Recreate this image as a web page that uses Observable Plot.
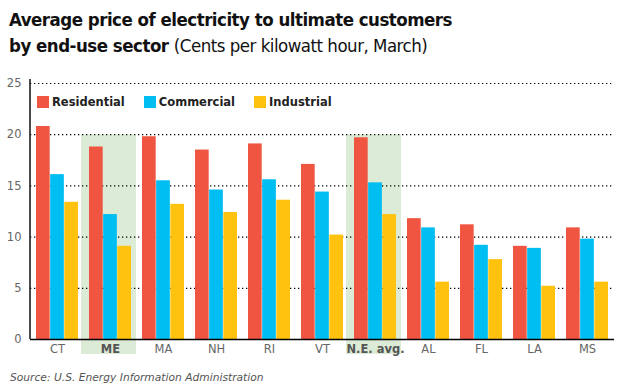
<!DOCTYPE html>
<html><head><meta charset="utf-8">
<script src="https://cdn.jsdelivr.net/npm/d3@7"></script>
<script src="https://cdn.jsdelivr.net/npm/@observablehq/plot@0.6"></script>
<style>
body{margin:0;background:#fff;font-family:"DejaVu Sans",Verdana,sans-serif;}
#wrap{position:relative;width:624px;height:390px;}
#title{position:absolute;left:9px;top:7px;font-family:"DejaVu Sans Condensed","Liberation Sans Narrow","DejaVu Sans",sans-serif;font-size:18.5px;letter-spacing:-0.5px;line-height:26px;color:#111;font-weight:bold;}
#title span{font-weight:normal;}
#chart{position:absolute;left:0;top:70px;}
#legend{position:absolute;left:37px;top:95px;display:flex;font-size:11.5px;font-weight:bold;color:#222;}
#legend div{display:flex;align-items:center;margin-right:19px;}
#legend i{display:inline-block;width:12px;height:12px;margin-right:3px;}
#source{position:absolute;left:10px;top:371px;font-size:10.7px;font-style:italic;color:#555;}
</style></head>
<body><div id="wrap">
<div id="title">Average price of electricity to ultimate customers<br>by end-use sector <span>(Cents per kilowatt hour, March)</span></div>
<div id="chart"></div>
<div id="legend"></div>
<div id="source">Source: U.S. Energy Information Administration</div>
</div>
<script>
const categories = ["CT","ME","MA","NH","RI","VT","N.E. avg.","AL","FL","LA","MS"];
const residential = [20.8,18.8,19.8,18.5,19.1,17.1,19.7,11.8,11.2,9.1,10.9];
const commercial  = [16.1,12.2,15.5,14.6,15.6,14.4,15.3,10.9,9.2,8.9,9.8];
const industrial  = [13.4,9.1,13.2,12.4,13.6,10.2,12.2,5.6,7.8,5.2,5.6];
const sectors = ["Residential","Commercial","Industrial"];
const colors = ["#EF5540","#00BDF2","#FFC20E"];
const highlighted = ["ME","N.E. avg."];
const highlightTop = 20;
const yTicks = [0,5,10,15,20,25];

const series = [residential, commercial, industrial];
const W = 624, H = 295, ml = 30, mr = 10, mt = 13, mb = 26;
const padIn = 0.2;
const step = (W - ml - mr) / categories.length;
const bw = step * (1 - padIn);
const third = bw / 3;

const rows = sectors.map((s, i) => categories.map((c, j) => ({cat: c, sector: s, value: series[i][j]})));

const chart = Plot.plot({
  width: W, height: H,
  marginLeft: ml, marginRight: mr, marginTop: mt, marginBottom: mb,
  style: {fontFamily: "DejaVu Sans, Verdana, sans-serif", fontSize: "11.5px", color: "#666", background: "transparent"},
  x: {domain: categories, paddingInner: padIn, paddingOuter: padIn / 2},
  y: {domain: [0, 25]},
  marks: [
    Plot.barY(highlighted.map(c => ({cat: c})), {x: "cat", y1: 0, y2: highlightTop, fill: "#DCEBD5",
      insetLeft: -8, insetRight: -5, insetBottom: -15}),
    Plot.ruleY(yTicks.filter(t => t > 0), {stroke: "#000", strokeDasharray: "1.3,2.7", strokeWidth: 1.2}),
    ...rows.map((data, i) => Plot.barY(data, {x: "cat", y: "value", fill: colors[i],
      insetLeft: i * third, insetRight: (2 - i) * third})),
    Plot.ruleY([0], {stroke: "#000", strokeWidth: 1.5}),
    Plot.axisX({tickSize: 0, tickPadding: 5, label: null, fill: "#666"}),
    Plot.axisY({ticks: yTicks, tickSize: 0, tickPadding: 9, label: null, fill: "#666"})
  ]
});

// y axis line
d3.select(chart).append("line")
  .attr("x1", ml).attr("x2", ml).attr("y1", mt - 4).attr("y2", H - mb)
  .attr("stroke", "#111").attr("stroke-width", 1.5);

// style highlighted tick labels
d3.select(chart).selectAll("text").each(function() {
  const t = d3.select(this);
  if (highlighted.includes(t.text())) t.attr("font-weight", "bold").attr("fill", "#555");
});

document.getElementById("chart").appendChild(chart);

const leg = document.getElementById("legend");
sectors.forEach((s, i) => {
  const d = document.createElement("div");
  d.innerHTML = `<i style="background:${colors[i]}"></i>${s}`;
  leg.appendChild(d);
});
</script>
</body></html>
